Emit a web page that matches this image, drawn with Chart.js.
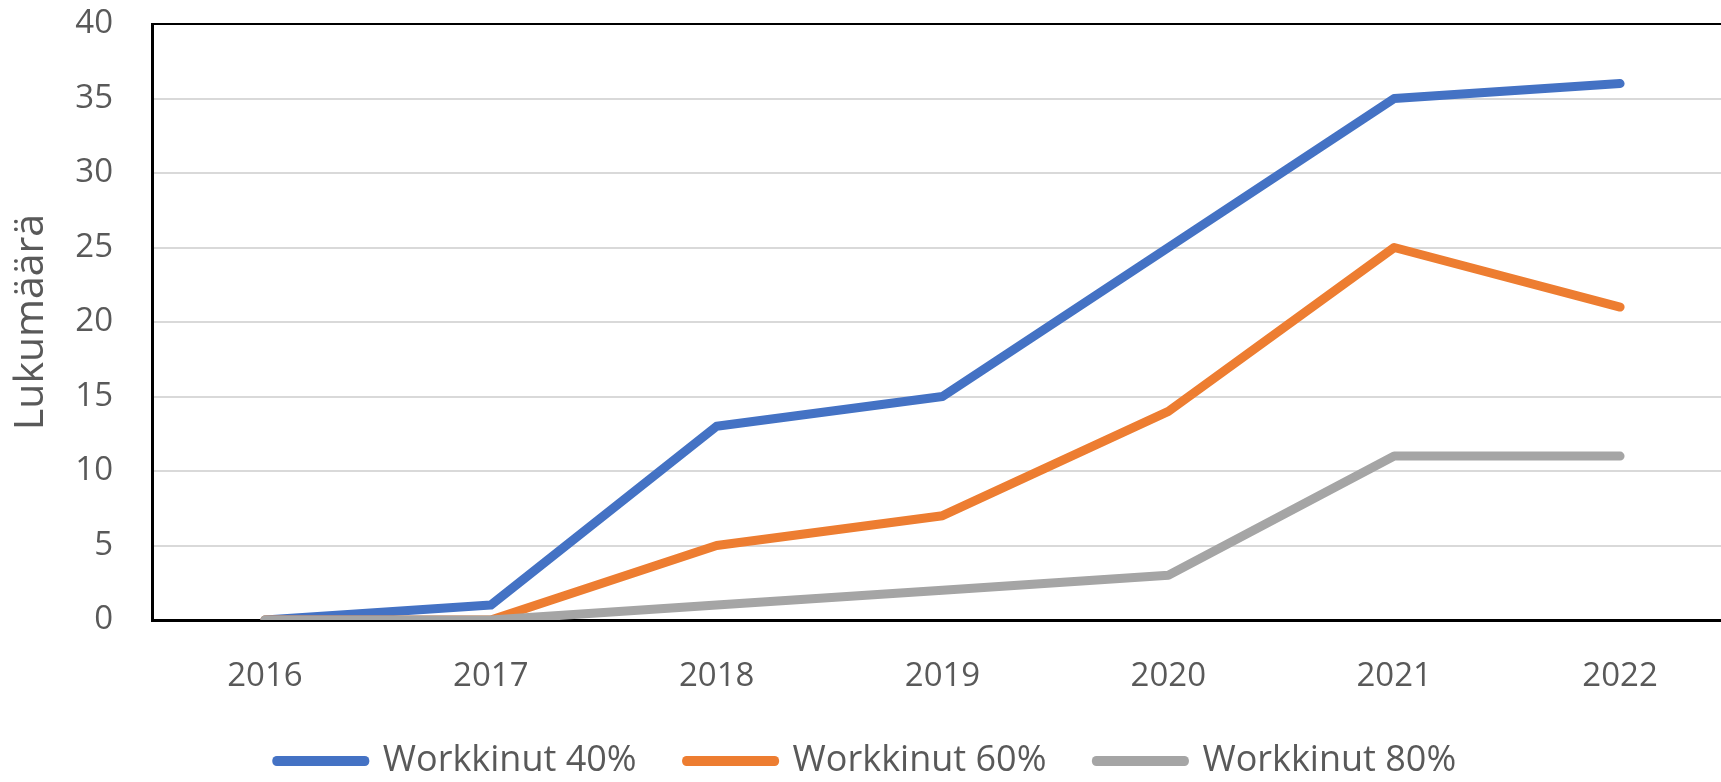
<!DOCTYPE html>
<html>
<head>
<meta charset="utf-8">
<script src="https://cdn.jsdelivr.net/npm/chart.js@4.4.0/dist/chart.umd.min.js"></script>
<style>
  html, body { margin: 0; padding: 0; background: #fff; overflow: hidden; }
  #wrap { width: 1733px; height: 782px; position: relative; }
</style>
</head>
<body>
<div id="wrap"><canvas id="chartLine"></canvas></div>
<script>
// Data
const years = ['2016', '2017', '2018', '2019', '2020', '2021', '2022'];
const seriesNames = ['Workkinut 40%', 'Workkinut 60%', 'Workkinut 80%'];
const workkinut40 = [0, 1, 13, 15, 25, 35, 36];
const workkinut60 = [0, 0, 5, 7, 14, 25, 21];
const workkinut80 = [0, 0, 1, 2, 3, 11, 11];
const yTicks = [0, 5, 10, 15, 20, 25, 30, 35, 40];

const lineColors = ['#4472C4', '#ED7D31', '#A5A5A5'];
const textColor = '#595959';
const fontFamily = '"Open Sans", sans-serif';

function makeSeries(label, data, color, order) {
    return {
        label: label,
        data: data,
        borderColor: color,
        backgroundColor: color,
        borderWidth: 9,
        borderCapStyle: 'round',
        borderJoinStyle: 'round',
        pointRadius: 0,
        pointHoverRadius: 0,
        tension: 0,
        fill: false,
        order: order
    };
}

// keep the legend box short so the plot can sit lower, while the wide
// label padding still spaces the items apart
const legendHeight = {
    id: 'legendHeight',
    afterInit(chart) {
        const legend = chart.legend;
        if (!legend) return;
        const fit = legend.fit;
        legend.fit = function () {
            fit.call(this);
            this.height = 89;
        };
    }
};

const ctx = document.getElementById('chartLine');

new Chart(ctx, {
    type: 'line',
    data: {
        labels: years,
        datasets: [
            makeSeries(seriesNames[0], workkinut40, lineColors[0], 3),
            makeSeries(seriesNames[1], workkinut60, lineColors[1], 2),
            makeSeries(seriesNames[2], workkinut80, lineColors[2], 1)
        ]
    },
    plugins: [legendHeight],
    options: {
        responsive: true,
        maintainAspectRatio: false,
        animation: false,
        layout: {
            padding: { left: 0, top: 24, right: 0, bottom: 0 }
        },
        plugins: {
            tooltip: { enabled: false },
            legend: {
                display: true,
                position: 'bottom',
                labels: {
                    color: textColor,
                    font: { family: fontFamily, size: 36 },
                    boxWidth: 88,
                    boxHeight: 1,
                    padding: 50,
                    sort: (a, b) => a.datasetIndex - b.datasetIndex
                }
            }
        },
        scales: {
            x: {
                offset: true,
                grid: { display: false, drawTicks: false },
                border: { display: true, color: '#000', width: 3 },
                ticks: {
                    color: textColor,
                    font: { family: fontFamily, size: 33 },
                    padding: 37,
                    maxRotation: 0
                },
                afterFit: (scale) => { scale.height = 73; }
            },
            y: {
                min: 0,
                max: 40,
                afterBuildTicks: (scale) => {
                    scale.ticks = yTicks.map(v => ({ value: v }));
                },
                grid: {
                    drawTicks: true,
                    tickLength: 35,
                    tickColor: 'rgba(0,0,0,0)',
                    lineWidth: 2,
                    color: (c) => (c.tick && (c.tick.value === 40 || c.tick.value === 0)) ? '#000' : '#d9d9d9'
                },
                border: { display: true, color: '#000', width: 3 },
                ticks: {
                    color: textColor,
                    font: { family: fontFamily, size: 33 },
                    padding: 4
                },
                title: {
                    display: true,
                    text: 'Lukumäärä',
                    color: textColor,
                    font: { family: fontFamily, size: 41 },
                    padding: { top: 7, bottom: 0 }
                },
                afterFit: (scale) => { scale.width = 152; }
            }
        }
    }
});
</script>
</body>
</html>
